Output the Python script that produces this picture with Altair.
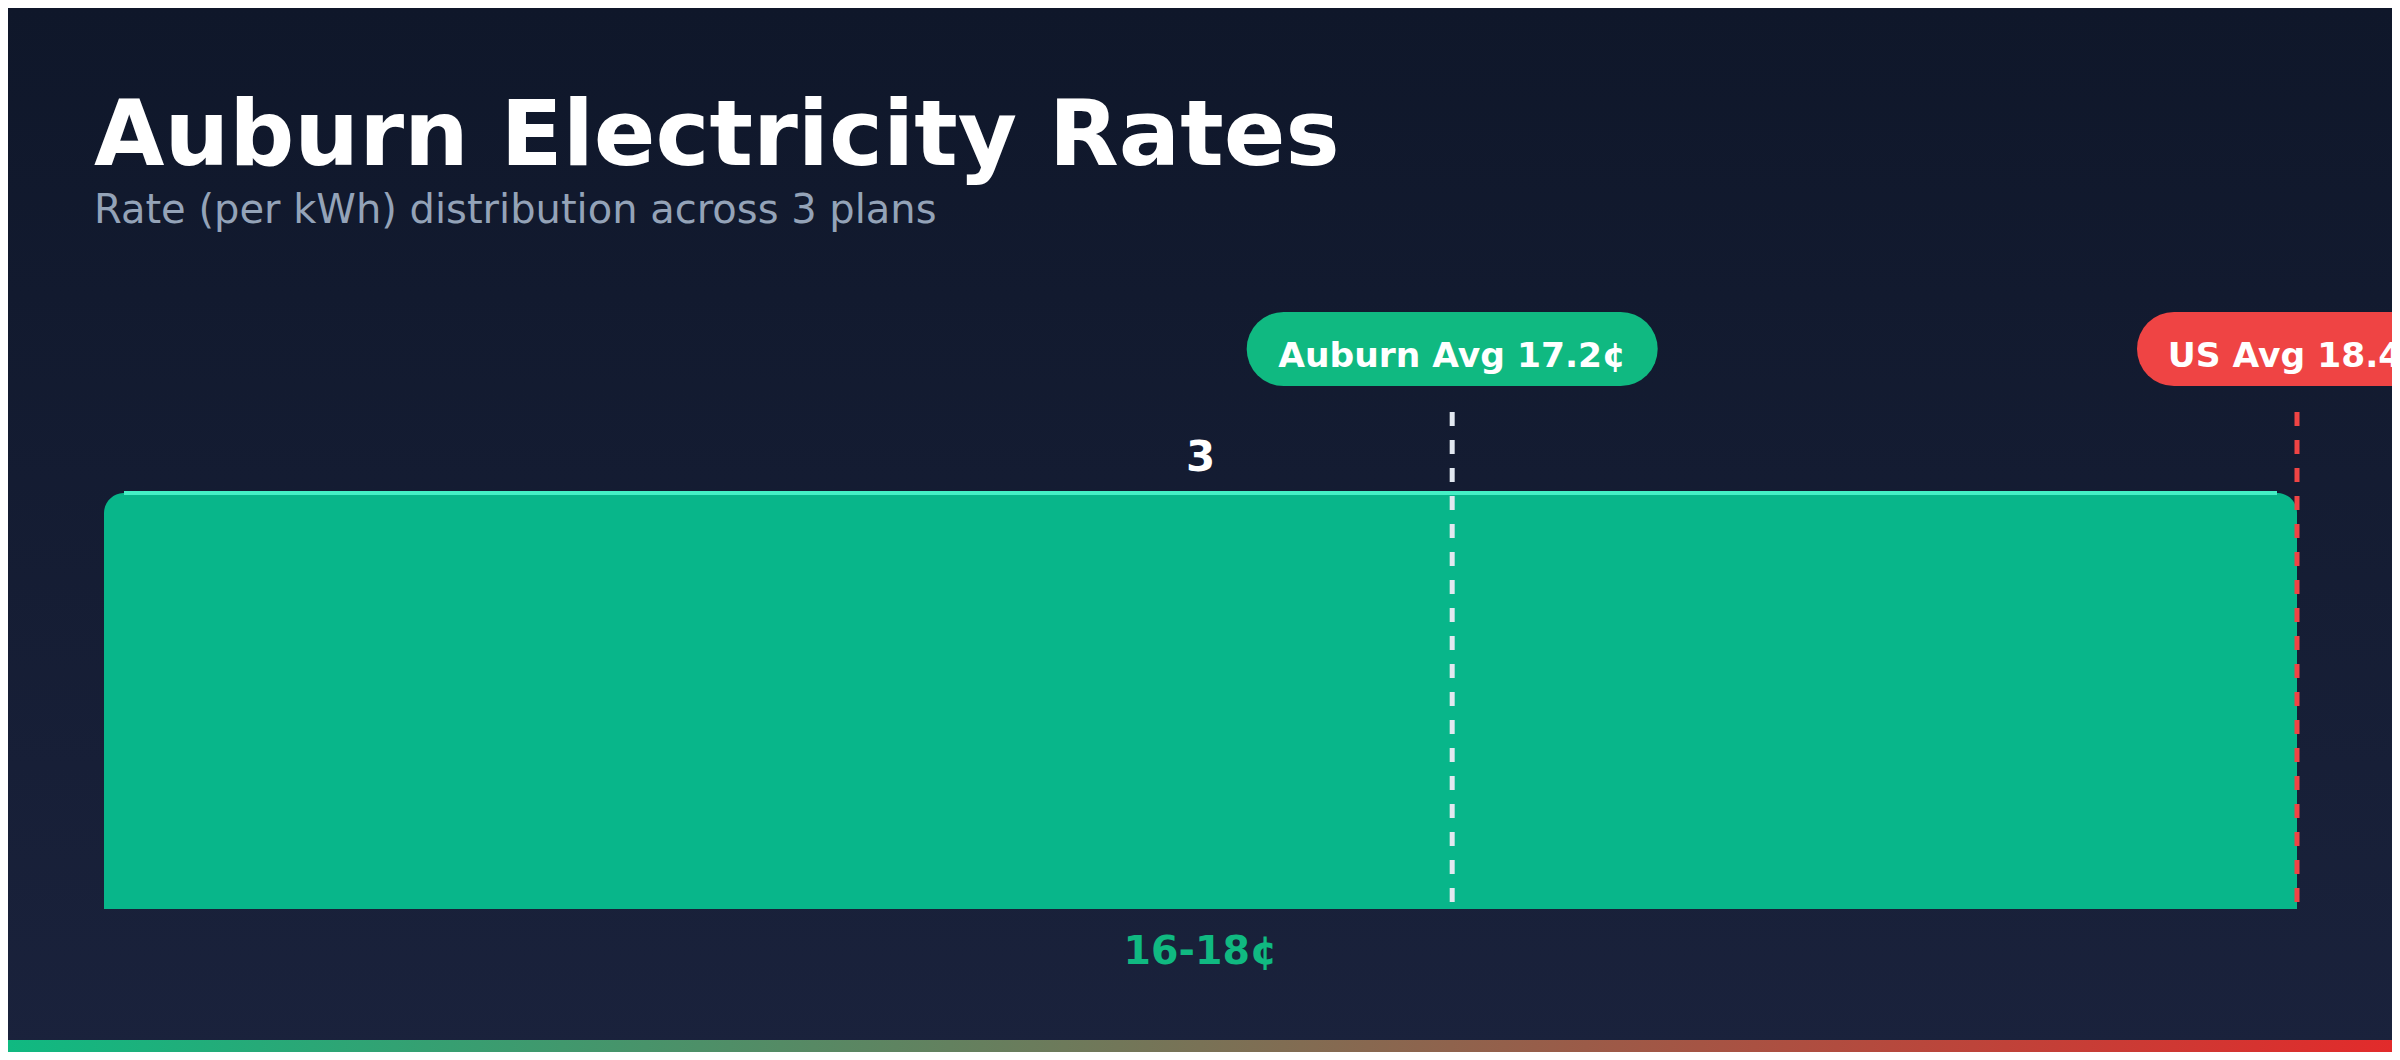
import altair as alt
import pandas as pd

# ---------------- data ----------------
TITLE = "Auburn Electricity Rates"
SUBTITLE = "Rate (per kWh) distribution across 3 plans"
bin_labels = ["16-18¢"]
bin_counts = [3]
avg_names = ["Auburn Avg", "US Avg"]
avg_values = [17.2, 18.4]
avg_labels = ["Auburn Avg 17.2¢", "US Avg 18.4¢"]
rate_domain = [15.285, 18.4]
count_domain = [0, 3.584]

# ---------------- style ----------------
W, H = 2193, 497
PAD_L, PAD_T, PAD_R, PAD_B = 96, 404, 95, 143
FONT = "DejaVu Sans"
BAR = "#08b68a"
HILITE = "#45f0c5"
GREEN = "#10b981"
RED = "#ef4444"
LINE_LIGHT = "#e2e8f0"
pill_colors = {"Auburn Avg": GREEN, "US Avg": RED}
pill_widths = {"Auburn Avg": 411, "US Avg": 320}
PILL_H = 74

bins = pd.DataFrame({"range": bin_labels, "count": bin_counts})
avgs = pd.DataFrame({"name": avg_names, "rate": avg_values, "label": avg_labels})
one = pd.DataFrame({"title": [TITLE], "subtitle": [SUBTITLE]})

# background gradient
bg = alt.Chart(one).mark_rect(
    fill=alt.Gradient(
        gradient="linear", x1=0, y1=0, x2=0, y2=1,
        stops=[alt.GradientStop(color="#0f172a", offset=0),
               alt.GradientStop(color="#1a223c", offset=1)],
    )
).encode(
    x=alt.value(-PAD_L), x2=alt.value(W + PAD_R),
    y=alt.value(-PAD_T), y2=alt.value(H + PAD_B),
)

# ---------------- bar group ----------------
xband = alt.X(
    "range:N",
    scale=alt.Scale(paddingInner=0, paddingOuter=0),
    axis=alt.Axis(
        title=None, ticks=False, tickSize=0, domain=False, grid=False,
        labelAngle=0, labelColor=GREEN, labelFontSize=39.5, labelFontWeight="bold",
        labelFont=FONT, labelPadding=23, zindex=2,
    ),
)
yq = alt.Y("count:Q", scale=alt.Scale(domain=count_domain, nice=False, zero=True), axis=None)

bar = alt.Chart(bins).mark_bar(
    color=BAR, cornerRadiusTopLeft=20, cornerRadiusTopRight=20
).encode(x=xband, y=yq)

hilite = alt.Chart(bins).mark_rule(
    color=HILITE, strokeWidth=4, xOffset=20, x2Offset=-20
).encode(
    x=alt.X("range:N", bandPosition=0),
    x2=alt.X2("range", bandPosition=1),
    y="count:Q",
)

count_text = alt.Chart(bins).mark_text(
    color="white", fontSize=42, fontWeight="bold", font=FONT,
    baseline="alphabetic", align="center", dy=-22,
).encode(x="range:N", y="count:Q", text="count:Q")

bar_group = alt.layer(bar, hilite, count_text)

# ---------------- averages group ----------------
xrate = alt.X("rate:Q", scale=alt.Scale(domain=rate_domain, nice=False, zero=False), axis=None)

lines = alt.Chart(avgs).mark_rule(strokeWidth=5, strokeDash=[14, 14]).encode(
    x=xrate,
    color=alt.Color("name:N", scale=alt.Scale(domain=avg_names, range=[LINE_LIGHT, RED]), legend=None),
)

pills = []
for n in avg_names:
    half = pill_widths[n] / 2 - PILL_H / 2
    pills.append(
        alt.Chart(avgs).transform_filter(alt.datum.name == n).mark_rule(
            color=pill_colors[n], strokeWidth=PILL_H, strokeCap="round",
            xOffset=-half, x2Offset=half,
        ).encode(x=xrate, x2=alt.X2("rate"), y=alt.value(-63))
    )

pill_text = alt.Chart(avgs).mark_text(
    color="white", fontSize=34.5, fontWeight="bold", font=FONT,
    baseline="alphabetic", align="center",
).encode(x=xrate, y=alt.value(-45), text="label:N")

avg_group = alt.layer(lines, *pills, pill_text)

# ---------------- titles ----------------
title_t = alt.Chart(one).mark_text(
    color="white", fontSize=91, fontWeight="bold", font=FONT,
    align="left", baseline="alphabetic",
).encode(x=alt.value(-10), y=alt.value(-247), text="title:N")

sub_t = alt.Chart(one).mark_text(
    color="#94a3b8", fontSize=40, font=FONT,
    align="left", baseline="alphabetic",
).encode(x=alt.value(-10), y=alt.value(-189), text="subtitle:N")

# bottom accent strip
strip = alt.Chart(one).mark_rect(
    fill=alt.Gradient(
        gradient="linear", x1=0, y1=0, x2=1, y2=0,
        stops=[alt.GradientStop(color=GREEN, offset=0),
               alt.GradientStop(color="#e22b2b", offset=1)],
    )
).encode(
    x=alt.value(-PAD_L), x2=alt.value(W + PAD_R),
    y=alt.value(H + PAD_B - 12), y2=alt.value(H + PAD_B),
)

chart = (
    alt.layer(bg, bar_group, avg_group, title_t, sub_t, strip)
    .resolve_scale(x="independent")
    .properties(
        width=W, height=H,
        autosize=alt.AutoSizeParams(type="none"),
        padding={"left": PAD_L, "top": PAD_T, "right": PAD_R, "bottom": PAD_B},
        background="#0f172a",
    )
    .configure_view(stroke=None)
    .configure(font=FONT)
)

chart.save("out.html", embed_options={"renderer": "svg", "actions": False})
